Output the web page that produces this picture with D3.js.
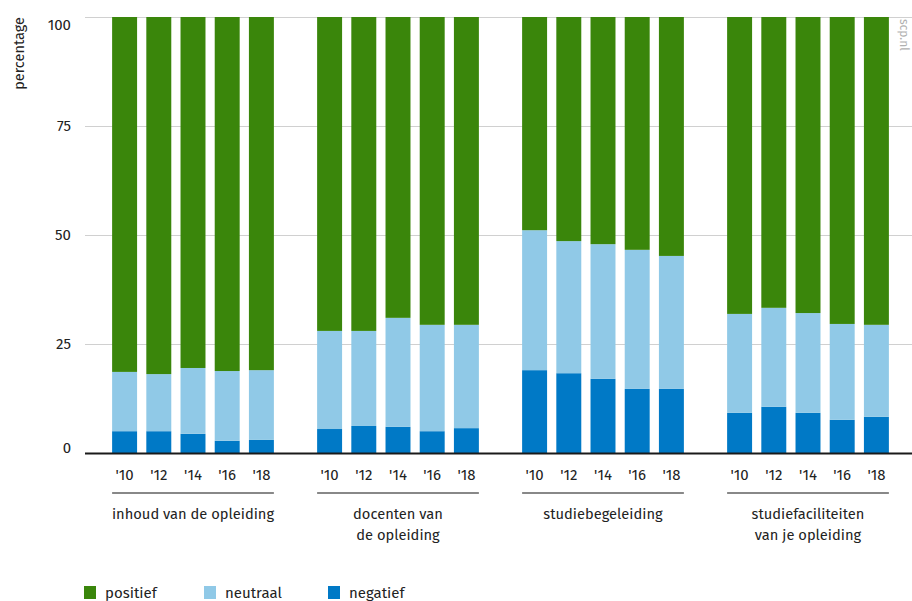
<!DOCTYPE html>
<html>
<head>
<meta charset="utf-8">
<script src="https://cdn.jsdelivr.net/npm/d3@7"></script>
<style>
  html, body { margin: 0; padding: 0; background: #fff; }
  svg { display: block; font-family: "Fira Sans", "Noto Sans", "Open Sans", sans-serif; }
</style>
</head>
<body>
<svg id="chart" width="912" height="601"></svg>
<script>
// ---- data ----
const categories = [
  ["inhoud van de opleiding"],
  ["docenten van", "de opleiding"],
  ["studiebegeleiding"],
  ["studiefaciliteiten", "van je opleiding"]
];
const years = ["'10", "'12", "'14", "'16", "'18"];
const seriesNames = ["negatief", "neutraal", "positief"];
const legendOrder = ["positief", "neutraal", "negatief"];
const negatief = [
  [5.0, 5.0, 4.4, 2.8, 3.0],
  [5.5, 6.2, 6.0, 5.0, 5.7],
  [19.0, 18.3, 17.0, 14.7, 14.7],
  [9.2, 10.6, 9.2, 7.6, 8.3]
];
const neutraal = [
  [13.6, 13.1, 15.1, 16.0, 16.0],
  [22.5, 21.8, 25.0, 24.4, 23.7],
  [32.1, 30.3, 30.9, 31.9, 30.5],
  [22.7, 22.7, 22.9, 22.0, 21.1]
];
const positief = [
  [81.4, 81.9, 80.5, 81.2, 81.0],
  [72.0, 72.0, 69.0, 70.6, 70.6],
  [48.9, 51.4, 52.1, 53.4, 54.8],
  [68.1, 66.7, 67.9, 70.4, 70.6]
];
const yTicks = [0, 25, 50, 75, 100];
const colors = { positief: "#3a860b", neutraal: "#90c9e7", negatief: "#0079c6" };

// ---- build rows ----
const seriesData = { negatief, neutraal, positief };
const rows = [];
categories.forEach((c, gi) => {
  years.forEach((yr, yi) => {
    const r = { group: gi, year: yr };
    seriesNames.forEach(s => r[s] = seriesData[s][gi][yi]);
    rows.push(r);
  });
});
const stacked = d3.stack().keys(seriesNames)(rows);

// ---- scales ----
const svg = d3.select("#chart");
const y = d3.scaleLinear().domain([0, 100]).range([453, 17]);
const x0 = d3.scaleBand().domain(d3.range(categories.length)).range([92.5, 912.5]).padding(0);
const x1 = d3.scaleBand().domain(years).range([15, 186]).paddingInner(0.27).paddingOuter(0.135);

// ---- gridlines ----
svg.append("g").selectAll("line").data(yTicks.filter(t => t > 0)).join("line")
  .attr("x1", 85).attr("x2", 912)
  .attr("y1", d => Math.round(y(d)) + 0.5).attr("y2", d => Math.round(y(d)) + 0.5)
  .attr("stroke", "#d0d0d0").attr("stroke-width", 1);

// y tick labels
svg.append("g").selectAll("text").data(yTicks).join("text")
  .attr("x", 71).attr("y", d => y(d))
  .attr("dy", d => d === 100 ? "0.85em" : d === 0 ? "0.02em" : "0.33em")
  .attr("text-anchor", "end")
  .attr("font-size", 15).attr("fill", "#222")
  .text(d => d);

// y title
svg.append("text")
  .attr("transform", "translate(24,17) rotate(-90)")
  .attr("text-anchor", "end")
  .attr("font-size", 14.5).attr("fill", "#222")
  .text("percentage");

// watermark
svg.append("text")
  .attr("transform", "translate(900,19) rotate(90)")
  .attr("text-anchor", "start")
  .attr("font-size", 12).attr("fill", "#b0b0b0")
  .text("scp.nl");

// ---- bars ----
svg.append("g").selectAll("g").data(stacked).join("g")
  .attr("fill", d => colors[d.key])
  .selectAll("rect").data(d => d).join("rect")
  .attr("x", d => x0(d.data.group) + x1(d.data.year))
  .attr("width", x1.bandwidth())
  .attr("y", d => y(d[1]))
  .attr("height", d => y(d[0]) - y(d[1]));

// baseline
svg.append("line").attr("x1", 85).attr("x2", 912)
  .attr("y1", y(0) + 0.5).attr("y2", y(0) + 0.5)
  .attr("stroke", "#1a1a1a").attr("stroke-width", 2);

// ---- x axis labels ----
const xg = svg.append("g");
categories.forEach((c, gi) => {
  const g = xg.append("g").attr("transform", `translate(${x0(gi)},0)`);
  g.selectAll("text.yr").data(years).join("text")
    .attr("class", "yr")
    .attr("x", d => x1(d) + x1.bandwidth() / 2)
    .attr("y", 480)
    .attr("text-anchor", "middle")
    .attr("font-size", 15).attr("fill", "#222")
    .text(d => d);
  const xa = x1(years[0]), xb = x1(years[years.length - 1]) + x1.bandwidth();
  g.append("line").attr("x1", xa).attr("x2", xb)
    .attr("y1", 493).attr("y2", 493)
    .attr("stroke", "#888").attr("stroke-width", 2);
  const t = g.append("text")
    .attr("x", (xa + xb) / 2).attr("y", 519)
    .attr("text-anchor", "middle")
    .attr("font-size", 14.7).attr("fill", "#222");
  c.forEach((line, li) => {
    t.append("tspan").attr("x", (xa + xb) / 2).attr("dy", li === 0 ? 0 : 21).text(line);
  });
});

// ---- legend ----
const legX = [84, 204, 328];
const lg = svg.append("g");
legendOrder.forEach((k, i) => {
  lg.append("rect").attr("x", legX[i]).attr("y", 586).attr("width", 12).attr("height", 13)
    .attr("fill", colors[k]);
  lg.append("text").attr("x", legX[i] + 21).attr("y", 598)
    .attr("font-size", 15).attr("fill", "#222").text(k);
});
</script>
</body>
</html>
